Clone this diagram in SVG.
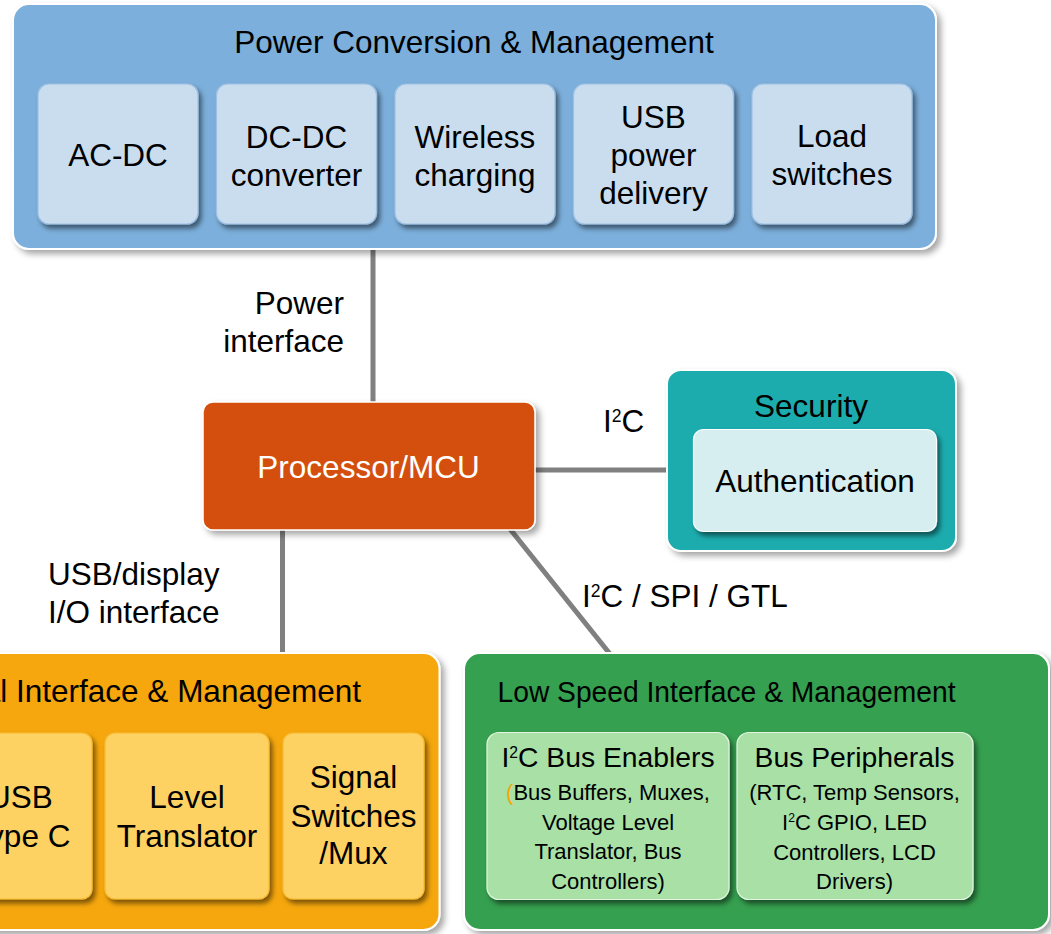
<svg xmlns="http://www.w3.org/2000/svg" width="1051" height="934" viewBox="0 0 1051 934">
  <defs>
    <filter id="panelShadow" x="-5%" y="-5%" width="112%" height="115%">
      <feDropShadow dx="4" dy="4" stdDeviation="3" flood-color="#000" flood-opacity="0.35"/>
    </filter>
    <filter id="boxShadow" x="-8%" y="-8%" width="120%" height="125%">
      <feDropShadow dx="3" dy="4" stdDeviation="2.5" flood-color="#000" flood-opacity="0.5"/>
    </filter>
  </defs>
  <style>
    text { font-family: "Liberation Sans", Arial, sans-serif; fill: #000; }
    .big { font-size: 31.5px; }
    .mid { font-size: 28.3px; }
    .small { font-size: 22px; }
    .c { text-anchor: middle; }
    .e { text-anchor: end; }
    .white { fill: #fff; }
    .panel { stroke: #fff; stroke-width: 2; filter: url(#panelShadow); }
    .box { filter: url(#boxShadow); stroke-width: 1.2; }
    .blueP { fill: #7BAFDB; }
    .blueB { fill: #C9DDEF; stroke: #9DC1E4; }
    .orangeP { fill: #F6A70C; }
    .orangeB { fill: #FDD262; stroke: #F8BC35; }
    .greenP { fill: #34A04F; }
    .greenB { fill: #A8E0A6; stroke: #E4F5E3; }
    .tealP { fill: #1AACAE; }
    .tealB { fill: #D6EEEF; stroke: #fff; }
    .wire { stroke: #808080; stroke-width: 5; fill: none; }
  </style>

  <!-- connectors and their labels -->
  <g id="connectors">
    <line class="wire" x1="373" y1="248" x2="373" y2="403"/>
    <line class="wire" x1="534" y1="470" x2="668" y2="470"/>
    <line class="wire" x1="282.5" y1="529" x2="282.5" y2="654"/>
    <line class="wire" x1="510" y1="529" x2="610" y2="654"/>
    <text class="big e" x="344" y="314">Power</text>
    <text class="big e" x="344" y="352">interface</text>
    <text class="big" x="603" y="432">I<tspan font-size="17.5" dy="-10.5">2</tspan><tspan dy="10.5">C</tspan></text>
    <text class="big" x="48" y="585">USB/display</text>
    <text class="big" x="48" y="623">I/O interface</text>
    <text class="big" x="582" y="607">I<tspan font-size="17.5" dy="-10.5">2</tspan><tspan dy="10.5">C / SPI / GTL</tspan></text>
  </g>

  <!-- power conversion -->
  <g id="power">
    <rect class="panel blueP" x="13" y="4" width="923" height="245" rx="16"/>
    <text class="big c" x="474" y="53">Power Conversion &amp; Management</text>
    <g id="acdc">
      <rect class="box blueB" x="38" y="84" width="160" height="140" rx="11"/>
      <text class="big c" x="118" y="166">AC-DC</text>
    </g>
    <g id="dcdc">
      <rect class="box blueB" x="216.5" y="84" width="160" height="140" rx="11"/>
      <text class="big c" x="296.5" y="148">DC-DC</text>
      <text class="big c" x="296.5" y="186">converter</text>
    </g>
    <g id="wireless">
      <rect class="box blueB" x="395" y="84" width="160" height="140" rx="11"/>
      <text class="big c" x="475" y="148">Wireless</text>
      <text class="big c" x="475" y="186">charging</text>
    </g>
    <g id="usbpd">
      <rect class="box blueB" x="573.5" y="84" width="160" height="140" rx="11"/>
      <text class="big c" x="653.5" y="128">USB</text>
      <text class="big c" x="653.5" y="166">power</text>
      <text class="big c" x="653.5" y="204">delivery</text>
    </g>
    <g id="loadsw">
      <rect class="box blueB" x="752" y="84" width="160" height="140" rx="11"/>
      <text class="big c" x="832" y="147">Load</text>
      <text class="big c" x="832" y="185">switches</text>
    </g>
  </g>

  <!-- processor -->
  <g id="processor">
    <rect x="203" y="402" width="332" height="128" rx="10" fill="#D4500F" stroke="#fff" stroke-width="1.5" filter="url(#panelShadow)"/>
    <text class="big c white" x="368.5" y="478">Processor/MCU</text>
  </g>

  <!-- security -->
  <g id="security">
    <rect class="panel tealP" x="667" y="370" width="289" height="181" rx="14"/>
    <text class="big c" x="811" y="417">Security</text>
    <g id="auth">
      <rect class="box tealB" x="693.5" y="429.5" width="243" height="102" rx="10"/>
      <text class="big c" x="815" y="492">Authentication</text>
    </g>
  </g>

  <!-- signal interface -->
  <g id="signal">
    <rect class="panel orangeP" x="-70" y="653" width="509.5" height="277" rx="16"/>
    <text class="big e" x="361" y="702">Signal Interface &amp; Management</text>
    <g id="usbc">
      <rect class="box orangeB" x="-51" y="733" width="143" height="166" rx="10"/>
      <text class="big c" x="20.5" y="808">USB</text>
      <text class="big c" x="20.5" y="846.5">Type C</text>
    </g>
    <g id="level">
      <rect class="box orangeB" x="105" y="733" width="164" height="166" rx="10"/>
      <text class="big c" x="187" y="808">Level</text>
      <text class="big c" x="187" y="846.5">Translator</text>
    </g>
    <g id="switches">
      <rect class="box orangeB" x="283" y="733" width="141" height="166" rx="10"/>
      <text class="big c" x="353.5" y="788">Signal</text>
      <text class="big c" x="353.5" y="826.5">Switches</text>
      <text class="big c" x="353.5" y="864">/Mux</text>
    </g>
  </g>

  <!-- low speed interface -->
  <g id="lowspeed">
    <rect class="panel greenP" x="464" y="653" width="585" height="277" rx="16"/>
    <text class="c" x="726.5" y="702" font-size="30" textLength="458" lengthAdjust="spacingAndGlyphs">Low Speed Interface &amp; Management</text>
    <g id="enablers">
      <rect class="box greenB" x="487" y="732.5" width="242" height="167" rx="12"/>
      <text class="mid c" x="608" y="767">I<tspan font-size="15.7" dy="-9.4">2</tspan><tspan dy="9.4">C Bus Enablers</tspan></text>
      <text class="small c" x="608" y="799.5"><tspan fill="#F6A70C">(</tspan>Bus Buffers, Muxes,</text>
      <text class="small c" x="608" y="829.5">Voltage Level</text>
      <text class="small c" x="608" y="859">Translator, Bus</text>
      <text class="small c" x="608" y="888.5">Controllers)</text>
    </g>
    <g id="peripherals">
      <rect class="box greenB" x="737" y="732.5" width="236" height="167" rx="12"/>
      <text class="mid c" x="854.5" y="767">Bus Peripherals</text>
      <text class="small c" x="854.5" y="799.5">(RTC, Temp Sensors,</text>
      <text class="small c" x="854.5" y="829.5">I<tspan font-size="12.2" dy="-7.3">2</tspan><tspan dy="7.3">C GPIO, LED</tspan></text>
      <text class="small c" x="854.5" y="859.5">Controllers, LCD</text>
      <text class="small c" x="854.5" y="889">Drivers)</text>
    </g>
  </g>
</svg>
